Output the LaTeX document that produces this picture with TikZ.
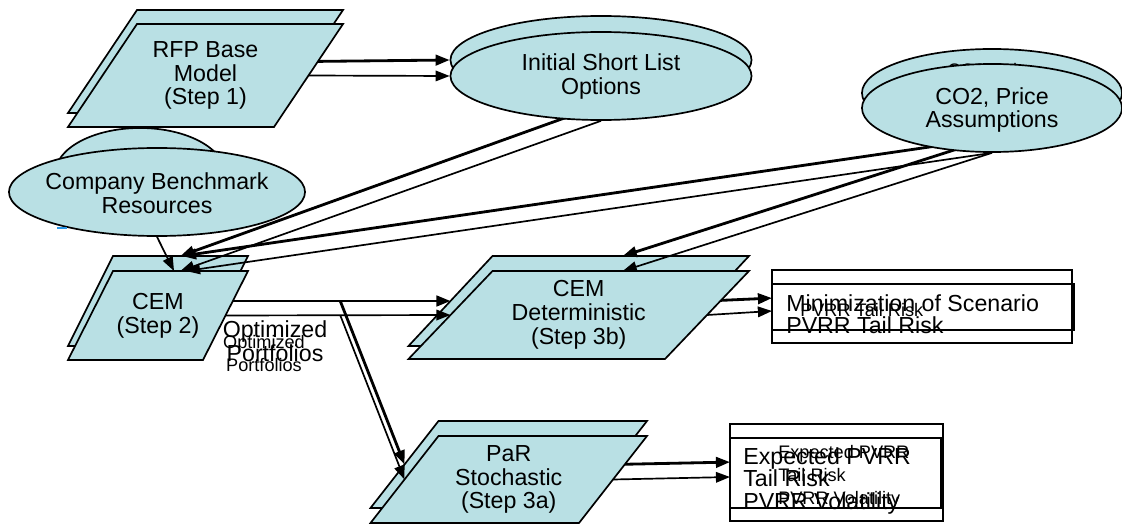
\documentclass[tikz,border=0pt]{standalone}
\usepackage{fontspec}
\setmainfont{Liberation Sans}
\usetikzlibrary{shapes.geometric, arrows.meta, calc}
\definecolor{stepcol}{RGB}{185,224,228}
\definecolor{markblue}{RGB}{40,150,230}
\tikzstyle{stepfill} = [draw=black, fill=stepcol, line width=1.2pt, line join=miter]
\tikzstyle{steptext} = [rectangle, inner sep=0pt, outer sep=0pt, align=center, font=\fontsize{16.5pt}{17pt}\selectfont]
\tikzstyle{inputbox} = [ellipse, draw=black, fill=stepcol, line width=1.2pt, inner sep=0pt]
\tikzstyle{resultbox} = [rectangle, draw=black, line width=1.2pt, inner sep=0pt, outer sep=0pt]
\tikzstyle{bigtext} = [inner sep=0pt, align=center, font=\fontsize{16.5pt}{17pt}\selectfont]
\tikzstyle{boxtext} = [inner sep=0pt, align=left, font=\fontsize{16.5pt}{16pt}\selectfont]
\tikzstyle{smalltext} = [inner sep=0pt, align=left, font=\fontsize{12.9pt}{16.5pt}\selectfont]
\tikzstyle{arrow} = [line width=1.2pt, -{Stealth[inset=0pt, length=10pt, width=7.5pt]}]
\tikzstyle{arrow_thick} = [line width=2pt, -{Stealth[inset=0pt, length=10pt, width=7.5pt]}]

% name, centre x, centre y, width, height, slant, text
\newcommand{\paragram}[7]{%
  \filldraw[stepfill] ({#2-#4/2+#6/2},{#3-#5/2}) -- ({#2+#4/2+#6/2},{#3-#5/2}) -- ({#2+#4/2-#6/2},{#3+#5/2}) -- ({#2-#4/2-#6/2},{#3+#5/2}) -- cycle;
  \node[steptext, minimum width=#4*0.025cm, minimum height=#5*0.025cm] (#1) at (#2,#3) {#7};}

\begin{document}
\begin{tikzpicture}[x=0.025cm, y=-0.025cm]
		\useasboundingbox (0,0) rectangle (1122,525);

		% back layer
		\node (cbrB) [inputbox, minimum width=4.25cm, minimum height=2.3cm] at (140,174) {};
		\paragram{rfpB}{205.5}{61.5}{206}{103}{69}{}
		\node (islB) [inputbox, minimum width=7.525cm, minimum height=2.2cm] at (601,60) {};
		\node (co2B) [inputbox, minimum width=6.5cm, minimum height=2.2cm] at (992,93) {};
		\node (co2B_txt) [smalltext, align=center] at (992,83) {CO2, Price\\Assumptions};
		\paragram{cemB}{158}{301}{135}{90}{45}{}
		\paragram{detB}{578.75}{301}{256.5}{90}{84}{}
		\paragram{parB}{508.75}{464.5}{208.5}{87}{68}{}
		\node (minB) [resultbox, minimum width=7.5cm, minimum height=1.825cm] at (922,306.5) {};
		\node (expB) [resultbox, minimum width=5.325cm, minimum height=2.425cm] at (836.5,472.5) {};

		\draw [arrow_thick] (rfpB.east) -- (islB.west);
		\draw [arrow_thick] (islB.south) -- ([xshift=0.56cm]cemB.north);
		\draw [arrow_thick] (co2B.south) -- ([xshift=0.6cm]cemB.north);
		\draw [arrow_thick] (co2B.south) -- ([xshift=1.1cm]detB.north);
		\draw [arrow_thick] (cemB.east) -- (detB.west);
		\coordinate (splitB) at ($(cemB.east)!0.51!(detB.west)$);
		\draw [arrow_thick] (splitB) -- (parB.west);
		\draw [arrow_thick] (detB.east) -- ([yshift=0.21cm]minB.west);
		\draw [arrow_thick] (parB.east) -- ([yshift=0.26cm]expB.west);

		% front layer
		\paragram{rfp}{205.5}{75.5}{206}{103}{69}{RFP Base\\Model\\(Step 1)}
		\node (cbr) [inputbox, minimum width=7.4cm, minimum height=2.2cm] at (157,192) {};
		\node (cbr_txt) [bigtext] at (157,193) {Company Benchmark\\Resources};
		\draw [line width=1.5pt, markblue] (57,228) -- (67,228);
		\node (isl) [inputbox, minimum width=7.525cm, minimum height=2.2cm] at (601,76) {};
		\node (isl_txt) [bigtext] at (601,76.5) {Initial Short List\\Options};
		\node (co2) [inputbox, minimum width=6.5cm, minimum height=2.2cm] at (992,108) {};
		\node (co2_txt) [bigtext] at (992,110) {CO2, Price\\Assumptions};
		\paragram{cem}{158}{315.5}{135}{89}{45}{CEM\\(Step 2)}
		\paragram{det}{578.75}{315}{256.5}{88}{84}{CEM\\Deterministic\\(Step 3b)}
		\paragram{par}{508.75}{479.5}{208.5}{87}{68}{PaR\\Stochastic\\(Step 3a)}
		\node (min) [resultbox, minimum width=7.55cm, minimum height=1.15cm] at (923,307) {};
		\node (exp) [resultbox, minimum width=5.275cm, minimum height=1.75cm] at (835.5,473) {};

		\draw [arrow] (rfp.east) -- (isl.west);
		\draw [arrow] (isl.south) -- ([xshift=0.56cm]cem.north);
		\draw [arrow] (co2.south) -- ([xshift=0.7cm]cem.north);
		\draw [arrow] (cbr.south) -- ([xshift=0.4cm]cem.north);
		\draw [arrow] (co2.south) -- ([xshift=1.1cm]det.north);
		\draw [arrow] (cem.east) -- (det.west);
		\coordinate (split) at ($(cem.east)!0.51!(det.west)$);
		\draw [arrow] (split) -- (par.west);
		\draw [arrow] (det.east) -- ([yshift=-0.1cm]min.west);
		\draw [arrow] (par.east) -- ([yshift=-0.1cm]exp.west);

		% labels
		\node (opt_txt) [bigtext] at (275,341) {Optimized\\Portfolios};
		\node (opt_small) [smalltext, align=center] at (264,353.5) {Optimized\\Portfolios};
		\node (min_small) [smalltext, anchor=west] at (800,310) {PVRR Tail Risk};
		\node (min_txt) [boxtext, anchor=west] at (786,314) {Minimization of Scenario\\PVRR Tail Risk};
		\node (exp_small) [smalltext, anchor=west] at (778,477) {Expected PVRR\\Tail Risk\\PVRR Volatility};
		\node (exp_txt) [boxtext, anchor=west] at (743,480.5) {Expected PVRR\\Tail Risk\\PVRR Volatility};
	\end{tikzpicture}
\end{document}
